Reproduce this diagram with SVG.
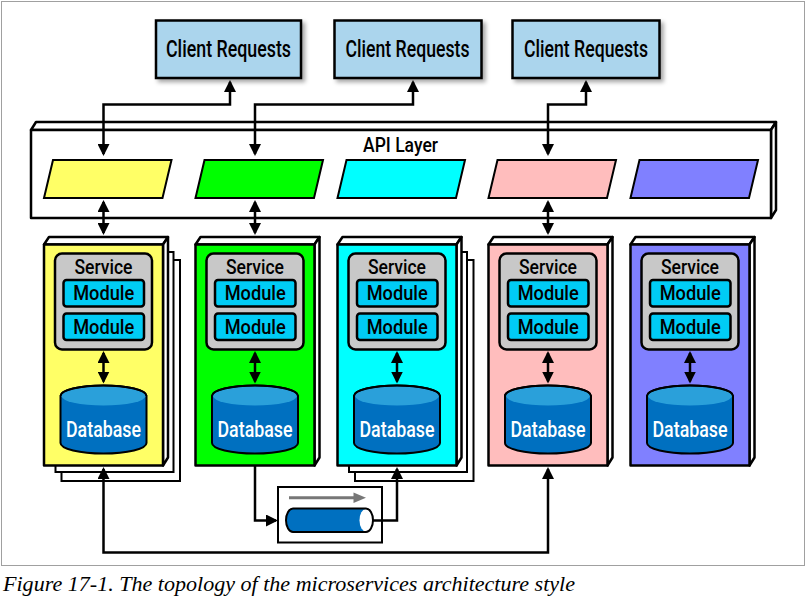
<svg xmlns="http://www.w3.org/2000/svg" width="807" height="599" viewBox="0 0 807 599">
<style>
.frame{fill:none;stroke:#a0a0a0;stroke-width:1}
.client{fill:#abd5ed;stroke:#000;stroke-width:2.5}
.lbl{font-family:Roboto,"Liberation Sans",sans-serif;font-weight:500;fill:#000;text-anchor:middle}
.box3d{fill:#fff;stroke:#000;stroke-width:2.5;stroke-linejoin:round}
.para{stroke:#000;stroke-width:2}
.page{fill:#fff;stroke:#000;stroke-width:2}
.svc{fill:#c8c8c8;stroke:#000;stroke-width:2.5}
.mod{fill:#00ccf5;stroke:#000;stroke-width:2.5}
.dbbody{fill:#0070c0;stroke:#000;stroke-width:2}
.dbtop{fill:#2aa0da}
.dbtxt{font-family:Roboto,"Liberation Sans",sans-serif;font-weight:500;fill:#fff;text-anchor:middle}
.conn{fill:none;stroke:#000;stroke-width:2.5}
.caption{font-family:"Liberation Serif",serif;font-style:italic;font-size:21.5px;fill:#000}
</style>
<defs>
<marker id="ah" viewBox="0 0 12 12" refX="10" refY="6" markerWidth="12" markerHeight="12" markerUnits="userSpaceOnUse" orient="auto-start-reverse">
<path d="M0,0 L12,6 L0,12 Z" fill="#000"/>
</marker>
<filter id="sh" x="-10%" y="-10%" width="130%" height="140%">
<feDropShadow dx="3" dy="3" stdDeviation="2" flood-color="#000" flood-opacity="0.35"/>
</filter>
</defs>

<rect class="frame" x="1.5" y="1.5" width="803" height="564"/>

<g id="client1"><rect class="client" filter="url(#sh)" x="156" y="20.5" width="145" height="57.5"/><text class="lbl" x="228.5" y="57.3" font-size="23.5" textLength="125" lengthAdjust="spacingAndGlyphs">Client Requests</text></g>
<g id="client2"><rect class="client" filter="url(#sh)" x="334.5" y="20.5" width="147" height="57.5"/><text class="lbl" x="407.5" y="57.3" font-size="23.5" textLength="124" lengthAdjust="spacingAndGlyphs">Client Requests</text></g>
<g id="client3"><rect class="client" filter="url(#sh)" x="512.5" y="20.5" width="147" height="57.5"/><text class="lbl" x="586" y="57.3" font-size="23.5" textLength="124" lengthAdjust="spacingAndGlyphs">Client Requests</text></g>

<g id="api-layer">
<path class="box3d" d="M31,130 L36,122 L776,122 L771,130 Z"/>
<path class="box3d" d="M771,130 L776,122 L776,210 L771,218 Z"/>
<rect class="box3d" x="31" y="130" width="740" height="88"/>
<text class="lbl" x="400.5" y="152" font-size="20.5" textLength="75" lengthAdjust="spacingAndGlyphs">API Layer</text>
<path class="para" fill="#ffff66" d="M44,198 L53,160 L171.5,160 L162.5,198 Z"/>
<path class="para" fill="#00ff00" d="M195.5,198 L204.5,160 L323,160 L314,198 Z"/>
<path class="para" fill="#00ffff" d="M337.5,198 L346.5,160 L465,160 L456,198 Z"/>
<path class="para" fill="#ffbdbd" d="M488.5,198 L497.5,160 L616,160 L607,198 Z"/>
<path class="para" fill="#8080ff" d="M630.5,198 L639.5,160 L758,160 L749,198 Z"/>
</g>

<g id="service-yellow">
<rect class="page" x="61.5" y="260" width="118.5" height="221"/>
<rect class="page" x="55.5" y="252" width="118" height="220"/>
<path class="box3d" d="M44,244.5 L49,237 L168,237 L163,244.5 Z"/>
<path class="box3d" d="M163,244.5 L168,237 L168,457.5 L163,465.5 Z"/>
<rect class="box3d" style="fill:#ffff66" x="44" y="244.5" width="119" height="221"/>
<rect class="svc" x="55" y="253.5" width="97" height="96" rx="7"/>
<text class="lbl" x="103.5" y="273.5" font-size="21" textLength="58" lengthAdjust="spacingAndGlyphs">Service</text>
<rect class="mod" x="63.5" y="280" width="80.5" height="26.5" rx="3"/>
<text class="lbl" x="103.7" y="300.3" font-size="21" textLength="61" lengthAdjust="spacingAndGlyphs">Module</text>
<rect class="mod" x="63.5" y="313.5" width="80.5" height="26.5" rx="3"/>
<text class="lbl" x="103.7" y="333.8" font-size="21" textLength="61" lengthAdjust="spacingAndGlyphs">Module</text>
<path class="dbbody" d="M60.5,396 V443 A43,10.5 0 0 0 146.5,443 V396 A43,10.5 0 0 0 60.5,396 Z"/>
<ellipse class="dbtop" cx="103.5" cy="396" rx="42" ry="9.5"/>
<path fill="none" stroke="#000" stroke-width="2" d="M60.5,396 A43,10.5 0 0 1 146.5,396"/>
<text class="dbtxt" x="103.5" y="437" font-size="21.5" textLength="75" lengthAdjust="spacingAndGlyphs">Database</text>
</g>

<g id="service-green">
<path class="box3d" d="M195.5,244.5 L200.5,237 L319.5,237 L314.5,244.5 Z"/>
<path class="box3d" d="M314.5,244.5 L319.5,237 L319.5,457.5 L314.5,465.5 Z"/>
<rect class="box3d" style="fill:#00ff00" x="195.5" y="244.5" width="119" height="221"/>
<rect class="svc" x="206.5" y="253.5" width="97" height="96" rx="7"/>
<text class="lbl" x="255" y="273.5" font-size="21" textLength="58" lengthAdjust="spacingAndGlyphs">Service</text>
<rect class="mod" x="215" y="280" width="80.5" height="26.5" rx="3"/>
<text class="lbl" x="255.2" y="300.3" font-size="21" textLength="61" lengthAdjust="spacingAndGlyphs">Module</text>
<rect class="mod" x="215" y="313.5" width="80.5" height="26.5" rx="3"/>
<text class="lbl" x="255.2" y="333.8" font-size="21" textLength="61" lengthAdjust="spacingAndGlyphs">Module</text>
<path class="dbbody" d="M212,396 V443 A43,10.5 0 0 0 298,443 V396 A43,10.5 0 0 0 212,396 Z"/>
<ellipse class="dbtop" cx="255" cy="396" rx="42" ry="9.5"/>
<path fill="none" stroke="#000" stroke-width="2" d="M212,396 A43,10.5 0 0 1 298,396"/>
<text class="dbtxt" x="255" y="437" font-size="21.5" textLength="75" lengthAdjust="spacingAndGlyphs">Database</text>
</g>

<g id="service-cyan">
<rect class="page" x="355" y="260" width="118.5" height="221"/>
<rect class="page" x="349" y="252" width="118" height="220"/>
<path class="box3d" d="M337.5,244.5 L342.5,237 L461.5,237 L456.5,244.5 Z"/>
<path class="box3d" d="M456.5,244.5 L461.5,237 L461.5,457.5 L456.5,465.5 Z"/>
<rect class="box3d" style="fill:#00ffff" x="337.5" y="244.5" width="119" height="221"/>
<rect class="svc" x="348.5" y="253.5" width="97" height="96" rx="7"/>
<text class="lbl" x="397" y="273.5" font-size="21" textLength="58" lengthAdjust="spacingAndGlyphs">Service</text>
<rect class="mod" x="357" y="280" width="80.5" height="26.5" rx="3"/>
<text class="lbl" x="397.2" y="300.3" font-size="21" textLength="61" lengthAdjust="spacingAndGlyphs">Module</text>
<rect class="mod" x="357" y="313.5" width="80.5" height="26.5" rx="3"/>
<text class="lbl" x="397.2" y="333.8" font-size="21" textLength="61" lengthAdjust="spacingAndGlyphs">Module</text>
<path class="dbbody" d="M354,396 V443 A43,10.5 0 0 0 440,443 V396 A43,10.5 0 0 0 354,396 Z"/>
<ellipse class="dbtop" cx="397" cy="396" rx="42" ry="9.5"/>
<path fill="none" stroke="#000" stroke-width="2" d="M354,396 A43,10.5 0 0 1 440,396"/>
<text class="dbtxt" x="397" y="437" font-size="21.5" textLength="75" lengthAdjust="spacingAndGlyphs">Database</text>
</g>

<g id="service-pink">
<path class="box3d" d="M488.5,244.5 L493.5,237 L612.5,237 L607.5,244.5 Z"/>
<path class="box3d" d="M607.5,244.5 L612.5,237 L612.5,457.5 L607.5,465.5 Z"/>
<rect class="box3d" style="fill:#ffbdbd" x="488.5" y="244.5" width="119" height="221"/>
<rect class="svc" x="499.5" y="253.5" width="97" height="96" rx="7"/>
<text class="lbl" x="548" y="273.5" font-size="21" textLength="58" lengthAdjust="spacingAndGlyphs">Service</text>
<rect class="mod" x="508" y="280" width="80.5" height="26.5" rx="3"/>
<text class="lbl" x="548.2" y="300.3" font-size="21" textLength="61" lengthAdjust="spacingAndGlyphs">Module</text>
<rect class="mod" x="508" y="313.5" width="80.5" height="26.5" rx="3"/>
<text class="lbl" x="548.2" y="333.8" font-size="21" textLength="61" lengthAdjust="spacingAndGlyphs">Module</text>
<path class="dbbody" d="M505,396 V443 A43,10.5 0 0 0 591,443 V396 A43,10.5 0 0 0 505,396 Z"/>
<ellipse class="dbtop" cx="548" cy="396" rx="42" ry="9.5"/>
<path fill="none" stroke="#000" stroke-width="2" d="M505,396 A43,10.5 0 0 1 591,396"/>
<text class="dbtxt" x="548" y="437" font-size="21.5" textLength="75" lengthAdjust="spacingAndGlyphs">Database</text>
</g>

<g id="service-purple">
<path class="box3d" d="M630.5,244.5 L635.5,237 L754.5,237 L749.5,244.5 Z"/>
<path class="box3d" d="M749.5,244.5 L754.5,237 L754.5,457.5 L749.5,465.5 Z"/>
<rect class="box3d" style="fill:#8080ff" x="630.5" y="244.5" width="119" height="221"/>
<rect class="svc" x="641.5" y="253.5" width="97" height="96" rx="7"/>
<text class="lbl" x="690" y="273.5" font-size="21" textLength="58" lengthAdjust="spacingAndGlyphs">Service</text>
<rect class="mod" x="650" y="280" width="80.5" height="26.5" rx="3"/>
<text class="lbl" x="690.2" y="300.3" font-size="21" textLength="61" lengthAdjust="spacingAndGlyphs">Module</text>
<rect class="mod" x="650" y="313.5" width="80.5" height="26.5" rx="3"/>
<text class="lbl" x="690.2" y="333.8" font-size="21" textLength="61" lengthAdjust="spacingAndGlyphs">Module</text>
<path class="dbbody" d="M647,396 V443 A43,10.5 0 0 0 733,443 V396 A43,10.5 0 0 0 647,396 Z"/>
<ellipse class="dbtop" cx="690" cy="396" rx="42" ry="9.5"/>
<path fill="none" stroke="#000" stroke-width="2" d="M647,396 A43,10.5 0 0 1 733,396"/>
<text class="dbtxt" x="690" y="437" font-size="21.5" textLength="75" lengthAdjust="spacingAndGlyphs">Database</text>
</g>

<g id="queue">
<rect x="278" y="487" width="104" height="55.5" fill="#fff" stroke="#000" stroke-width="2"/>
<line x1="289" y1="497.7" x2="356" y2="497.7" stroke="#777" stroke-width="3"/>
<path d="M353.5,492.5 L366,497.7 L353.5,503 Z" fill="#777"/>
<path d="M293,508.5 H366 A7,11.75 0 0 1 366,532 H293 A7,11.75 0 0 1 293,508.5 Z" fill="#0070c0"/>
<ellipse cx="366" cy="520.25" rx="6.5" ry="11.25" fill="#fff"/>
<path d="M293,508.5 H366 A7,11.75 0 0 1 366,532 H293 A7,11.75 0 0 1 293,508.5 Z" fill="none" stroke="#000" stroke-width="2"/>
</g>

<g id="connectors">
<path class="conn" marker-start="url(#ah)" marker-end="url(#ah)" d="M230,82 V104.5 H103.5 V154"/>
<path class="conn" marker-start="url(#ah)" marker-end="url(#ah)" d="M413,82 V104.5 H255 V154"/>
<path class="conn" marker-start="url(#ah)" marker-end="url(#ah)" d="M586,82 V104.5 H548 V154"/>
<path class="conn" marker-start="url(#ah)" marker-end="url(#ah)" d="M103.5,202 V233"/>
<path class="conn" marker-start="url(#ah)" marker-end="url(#ah)" d="M255,202 V233"/>
<path class="conn" marker-start="url(#ah)" marker-end="url(#ah)" d="M548,202 V233"/>
<path class="conn" marker-start="url(#ah)" marker-end="url(#ah)" d="M103.5,353 V381.5"/>
<path class="conn" marker-start="url(#ah)" marker-end="url(#ah)" d="M255,353 V381.5"/>
<path class="conn" marker-start="url(#ah)" marker-end="url(#ah)" d="M397,353 V381.5"/>
<path class="conn" marker-start="url(#ah)" marker-end="url(#ah)" d="M548,353 V381.5"/>
<path class="conn" marker-start="url(#ah)" marker-end="url(#ah)" d="M690,353 V381.5"/>
<path class="conn" marker-start="url(#ah)" marker-end="url(#ah)" d="M103.5,469 V552.5 H548 V469"/>
<path class="conn" marker-end="url(#ah)" d="M255,466 V520.5 H276"/>
<path class="conn" marker-end="url(#ah)" d="M373,520.5 H397 V469"/>
</g>

<text class="caption" x="3" y="591" textLength="572" lengthAdjust="spacingAndGlyphs">Figure 17-1. The topology of the microservices architecture style</text>
</svg>
